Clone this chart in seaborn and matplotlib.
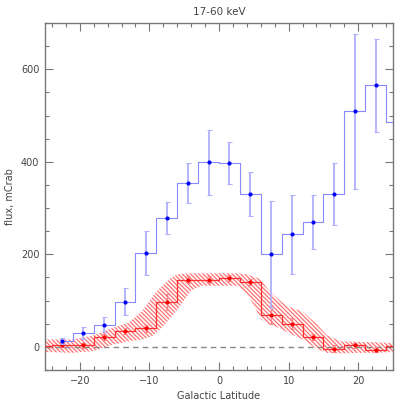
import numpy as np
import pandas as pd
import seaborn as sns
import matplotlib.pyplot as plt
from matplotlib.ticker import MultipleLocator

# bin centres (3 degree bins)
latitude = [-22.5, -19.5, -16.5, -13.5, -10.5, -7.5, -4.5, -1.5,
            1.5, 4.5, 7.5, 10.5, 13.5, 16.5, 19.5, 22.5]

# blue series: total flux
blue_flux = [13, 30, 48, 98, 203, 278, 355, 399, 398, 330, 200, 243, 270, 331, 509, 565]
blue_err = [7, 13, 16, 30, 48, 35, 43, 70, 45, 47, 116, 86, 58, 67, 168, 100]

# red series: model / diffuse
red_flux = [5, 3, 21, 34, 40, 97, 145, 145, 149, 140, 69, 50, 21, -4, 3, -6]
red_err = [6, 5, 6, 7, 7, 17, 8, 8, 6, 7, 20, 12, 7, 7, 5, 6]

# partially visible bins outside the window
blue_edge_lat = [25.5]
blue_edge_flux = [487]
red_edge_lat = [-25.5, 25.5]
red_edge_flux = [2, 1]

# hatched band around the red curve
band_lat = [-25, -21, -18, -15.5, -13, -11, -9.5, -8.5, -7, -6, -4, -2.5, 0,
            2.5, 4, 5, 6, 7, 8, 9, 10, 12, 14, 15.5, 17.5, 20, 22.5, 25]
band_upper = [16, 16, 25, 40, 52, 78, 110, 127, 148, 157, 159, 159, 159,
              159, 157, 152, 146, 125, 110, 97, 87, 76, 50, 25, 12, 11, 10, 8]
band_lower = [-11, -13, -9, 4, 12, 16, 24, 37, 62, 80, 122, 132, 132,
              132, 115, 90, 60, 50, 45, 38, 30, 16, -4, -13, -14, -13, -13, -11]

sns.set_style("ticks")
plt.rcParams["font.family"] = ["DejaVu Sans"]
plt.rcParams["hatch.linewidth"] = 0.9
plt.rcParams["hatch.color"] = "#ff7070"

fig = plt.figure(figsize=(4.15, 4.15), dpi=100)
ax = fig.add_axes([0.1084, 0.1084, 0.8386, 0.8362])

ax.fill_between(band_lat, band_lower, band_upper, facecolor="none",
                edgecolor="#ff7070", hatch="\\" * 8, linewidth=0, zorder=1)

ax.axhline(0, color="#888888", lw=1, ls=(0, (4, 3)), zorder=1.5)

red_df = pd.DataFrame({"lat": red_edge_lat[:1] + latitude + red_edge_lat[1:],
                       "flux": red_edge_flux[:1] + red_flux + red_edge_flux[1:]})
blue_df = pd.DataFrame({"lat": latitude + blue_edge_lat,
                        "flux": blue_flux + blue_edge_flux})

sns.lineplot(data=red_df, x="lat", y="flux", drawstyle="steps-mid",
             color="#ff3030", lw=0.9, ax=ax, zorder=3)
ax.errorbar(latitude, red_flux, yerr=red_err, fmt="none", ecolor="#ff8080",
            elinewidth=1.0, capsize=1.5, capthick=0.7, zorder=3)
sns.scatterplot(x=latitude, y=red_flux, color="#ff0000", s=9, marker="o",
                linewidth=0, ax=ax, zorder=4)

sns.lineplot(data=blue_df, x="lat", y="flux", drawstyle="steps-mid",
             color="#8888ff", lw=0.8, ax=ax, zorder=5)
ax.errorbar(latitude, blue_flux, yerr=blue_err, fmt="none", ecolor="#b0b0ff",
            elinewidth=1.3, capsize=1.8, capthick=0.8, zorder=5)
sns.scatterplot(x=latitude, y=blue_flux, color="#0000ff", s=9, marker="o",
                linewidth=0, ax=ax, zorder=6)

ax.set_xlim(-25, 25)
ax.set_ylim(-50, 700)
ax.xaxis.set_major_locator(MultipleLocator(10))
ax.xaxis.set_minor_locator(MultipleLocator(2))
ax.yaxis.set_major_locator(MultipleLocator(200))
ax.yaxis.set_minor_locator(MultipleLocator(50))
ax.tick_params(which="both", direction="in", top=True, right=True,
               color="#777777", labelcolor="#444444", labelsize=7, width=0.8)
ax.tick_params(which="major", length=6, pad=4)
ax.tick_params(which="minor", length=3)
for sp in ax.spines.values():
    sp.set_color("#777777")
    sp.set_linewidth(1)

ax.set_title("17-60 keV", fontsize=7.5, color="#444444", pad=5.5)
ax.set_xlabel("Galactic Latitude", fontsize=7, color="#444444", labelpad=4)
ax.set_ylabel("flux, mCrab", fontsize=7, color="#444444", labelpad=4)

fig.savefig("out.png", dpi=100)
